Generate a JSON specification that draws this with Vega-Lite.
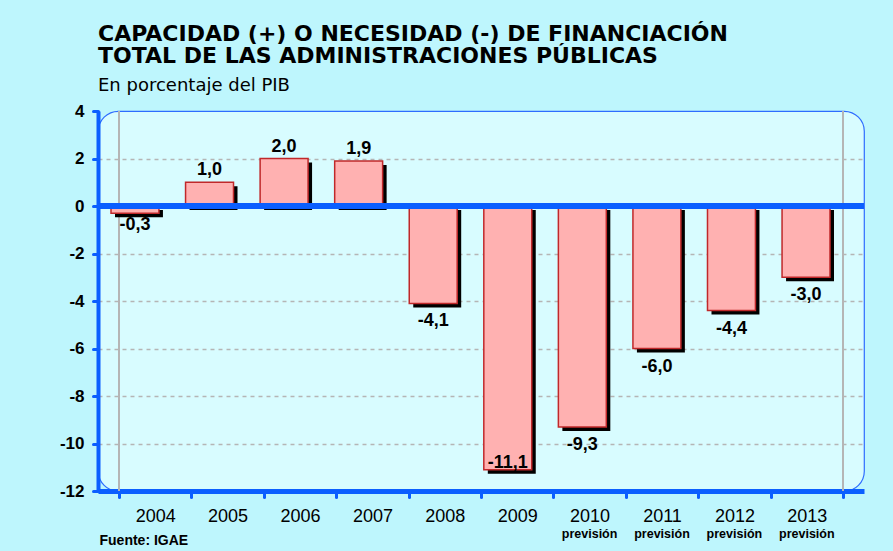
{
  "$schema": "https://vega.github.io/schema/vega-lite/v6.json",
  "width": 766,
  "height": 380,
  "autosize": {"type": "none"},
  "padding": {"left": 98, "top": 111, "right": 29, "bottom": 60},
  "background": "#BEF6FD",
  "config": {
    "view": {"fill": "#D8FCFF", "stroke": "#2E6CFF", "strokeWidth": 1.2, "cornerRadius": 20},
    "font": "Liberation Sans",
    "locale": {"number": {"decimal": ",", "thousands": ".", "grouping": [3], "currency": ["", " €"], "minus": "-"}}
  },
  "title": {
    "text": ["CAPACIDAD (+) O NECESIDAD (-) DE FINANCIACIÓN", "TOTAL DE LAS ADMINISTRACIONES PÚBLICAS"],
    "subtitle": "En porcentaje del PIB",
    "anchor": "start",
    "frame": "group",
    "font": "DejaVu Sans",
    "fontSize": 22,
    "fontWeight": "bold",
    "lineHeight": 22,
    "color": "#000000",
    "subtitleFont": "DejaVu Sans",
    "subtitleFontSize": 18,
    "subtitleColor": "#000000",
    "subtitlePadding": 9,
    "offset": 6
  },
  "datasets": {
    "d": [
      {"year": "2004", "value": -0.3, "sub": ""},
      {"year": "2005", "value": 1.0, "sub": ""},
      {"year": "2006", "value": 2.0, "sub": ""},
      {"year": "2007", "value": 1.9, "sub": ""},
      {"year": "2008", "value": -4.1, "sub": ""},
      {"year": "2009", "value": -11.1, "sub": ""},
      {"year": "2010", "value": -9.3, "sub": "previsión"},
      {"year": "2011", "value": -6.0, "sub": "previsión"},
      {"year": "2012", "value": -4.4, "sub": "previsión"},
      {"year": "2013", "value": -3.0, "sub": "previsión"}
    ]
  },
  "data": {"name": "d"},
  "layer": [
    {
      "encoding": {
        "x": {
          "field": "year",
          "type": "nominal",
          "scale": {"paddingInner": 0, "paddingOuter": 0.29},
          "axis": {
            "orient": "bottom",
            "title": "Fuente: IGAE",
            "tickBand": "extent",
            "domainColor": "#0B5FFF",
            "domainWidth": 5,
            "tickColor": "#0B5FFF",
            "tickWidth": 3,
            "tickSize": 6,
            "tickCap": "round",
            "labelFontSize": 18,
            "labelColor": "#000000",
            "labelPadding": 10,
            "labelAngle": 0,
            "grid": false,
            "titleFontSize": 14,
            "titleFontWeight": "bold",
            "titleColor": "#000000",
            "titleAnchor": "start",
            "titleAlign": "left",
            "titleBaseline": "alphabetic",
            "titleX": 1,
            "titleY": 53
          }
        }
      },
      "layer": [
        {
          "transform": [{"filter": "datum.year == '2004'"}],
          "mark": {"type": "rule", "color": "#B5B5B5", "strokeWidth": 2},
          "encoding": {"x": {"field": "year", "type": "nominal", "bandPosition": 0}}
        },
        {
          "transform": [{"filter": "datum.year == '2013'"}],
          "mark": {"type": "rule", "color": "#B5B5B5", "strokeWidth": 2},
          "encoding": {"x": {"field": "year", "type": "nominal", "bandPosition": 1}}
        },
        {
          "mark": {"type": "text", "fontSize": 12.5, "fontWeight": "bold", "baseline": "alphabetic", "dy": 47, "color": "#000000"},
          "encoding": {
            "y": {"datum": -12, "type": "quantitative"},
            "text": {"field": "sub"}
          }
        }
      ]
    },
    {
      "encoding": {
        "x": {
          "field": "year",
          "type": "nominal",
          "scale": {"range": [13, 732], "paddingInner": 0.357, "paddingOuter": 0},
          "axis": null
        },
        "y": {
          "field": "value",
          "type": "quantitative",
          "scale": {"domain": [-12, 4], "nice": false, "zero": false},
          "axis": {
            "values": [-12, -10, -8, -6, -4, -2, 0, 2, 4],
            "title": null,
            "domainColor": "#0B5FFF",
            "domainWidth": 4,
            "tickColor": "#0B5FFF",
            "tickWidth": 3,
            "tickSize": 5,
            "tickCap": "round",
            "labelFontSize": 17,
            "labelFontWeight": "bold",
            "labelColor": "#000000",
            "labelPadding": 9,
            "grid": true,
            "gridColor": "#B5B5B5",
            "gridDash": [4, 4],
            "gridWidth": 1.5,
            "gridOpacity": {"condition": {"test": "datum.value == 4 || datum.value == -12 || datum.value == 0", "value": 0}, "value": 1}
          }
        }
      },
      "layer": [
        {"mark": {"type": "bar", "color": "#000000", "xOffset": 4, "yOffset": 4}},
        {"mark": {"type": "bar", "fill": "#FFB1B1", "stroke": "#C0282A", "strokeWidth": 1.5}},
        {
          "transform": [{"filter": "datum.value > 0"}],
          "mark": {"type": "text", "baseline": "bottom", "dy": -3, "fontSize": 18, "fontWeight": "bold", "color": "#000000"},
          "encoding": {"text": {"field": "value", "type": "quantitative", "format": ".1f"}}
        },
        {
          "transform": [{"filter": "datum.value < 0 && datum.value > -1"}],
          "mark": {"type": "text", "baseline": "top", "dy": 3, "fontSize": 18, "fontWeight": "bold", "color": "#000000"},
          "encoding": {"text": {"field": "value", "type": "quantitative", "format": ".1f"}}
        },
        {
          "transform": [{"filter": "datum.value <= -1 && datum.value > -11"}],
          "mark": {"type": "text", "baseline": "top", "dy": 9, "fontSize": 18, "fontWeight": "bold", "color": "#000000"},
          "encoding": {"text": {"field": "value", "type": "quantitative", "format": ".1f"}}
        },
        {
          "transform": [{"filter": "datum.value <= -11"}],
          "mark": {"type": "text", "baseline": "alphabetic", "dy": -2, "fontSize": 18, "fontWeight": "bold", "color": "#000000"},
          "encoding": {"text": {"field": "value", "type": "quantitative", "format": ".1f"}}
        }
      ]
    },
    {
      "mark": {"type": "rule", "color": "#0B5FFF", "strokeWidth": 5},
      "encoding": {"y": {"datum": 0, "type": "quantitative"}}
    }
  ],
  "resolve": {"scale": {"x": "independent"}}
}
